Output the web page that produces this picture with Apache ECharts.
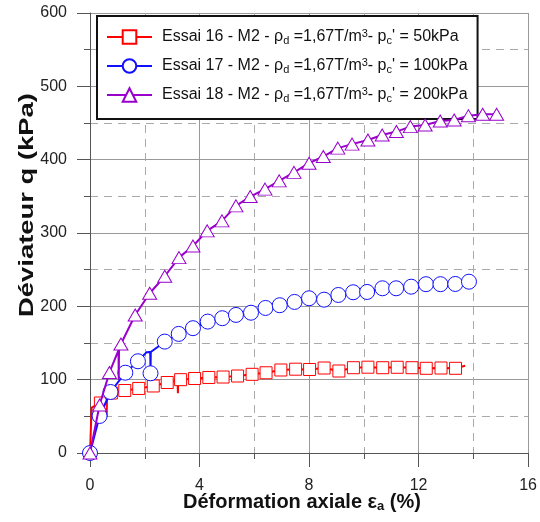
<!DOCTYPE html>
<html><head><meta charset="utf-8">
<script src="https://cdn.jsdelivr.net/npm/echarts@6/dist/echarts.min.js"></script>
<style>html,body{margin:0;padding:0;background:#fff}#c{width:540px;height:522px}</style>
</head><body><div id="c"></div>
<script>
// ---- data ----
const xTickValues = [0, 4, 8, 12, 16];
const yTickValues = [0, 100, 200, 300, 400, 500, 600];

const seriesNames = [
  "Essai 16 - M2 - ρd =1,67T/m3- pc' = 50kPa",
  "Essai 17 - M2 - ρd =1,67T/m3- pc' = 100kPa",
  "Essai 18 - M2 - ρd =1,67T/m3- pc' = 200kPa"
];
const legendRich = [
  "Essai 16 - M2 - ρ{sub|d} =1,67T/m{sup|3}- p{sub|c}' = 50kPa",
  "Essai 17 - M2 - ρ{sub|d} =1,67T/m{sup|3}- p{sub|c}' = 100kPa",
  "Essai 18 - M2 - ρ{sub|d} =1,67T/m{sup|3}- p{sub|c}' = 200kPa"
];

// Essai 16 (50 kPa) - marker points
const e16Markers = [[0.38,68.2],[0.78,81.8],[1.27,85.2],[1.78,88.0],[2.31,91.4],[2.82,96.1],[3.31,100.0],[3.82,101.6],[4.34,103.0],[4.86,103.6],[5.39,105.0],[5.92,107.3],[6.43,109.4],[6.97,113.2],[7.51,114.3],[8.02,113.9],[8.55,115.9],[9.09,111.8],[9.62,116.3],[10.15,117.0],[10.69,116.3],[11.22,116.9],[11.76,116.3],[12.28,115.5],[12.82,115.9],[13.35,115.5]];
// Essai 16 - full curve
const e16Curve = [[0,0],[0.05,0],[0.06,62],[0.38,68.2],[0.6,76],[0.61,49],[0.62,78],[0.78,81.8],[1.27,85.2],[1.78,88.0],[2.31,91.4],[2.82,96.1],[3.2,98.5],[3.21,81.4],[3.22,98.7],[3.31,100.0],[3.82,101.6],[4.34,103.0],[4.86,103.6],[5.39,105.0],[5.92,107.3],[6.43,109.4],[6.97,113.2],[7.51,114.3],[8.02,113.9],[8.55,115.9],[9.09,111.8],[9.62,116.3],[10.15,117.0],[10.69,116.3],[11.22,116.9],[11.76,116.3],[12.28,115.5],[12.82,115.9],[13.35,115.5],[13.70,119.0]];

// Essai 17 (100 kPa)
const e17Markers = [[0,0],[0.35,50.5],[0.75,83.2],[1.29,109.5],[1.75,125.1],[2.21,108.7],[2.73,151.9],[3.24,162.4],[3.76,170.2],[4.30,179.2],[4.83,183.8],[5.33,188.3],[5.88,191.3],[6.41,197.8],[6.93,201.5],[7.47,206.0],[8.0,211.0],[8.55,209.1],[9.07,215.5],[9.61,219.2],[10.12,219.6],[10.68,224.6],[11.18,224.6],[11.73,226.8],[12.27,230.2],[12.80,230.2],[13.34,230.5],[13.84,233.6]];
const e17Curve = [[0,0],[0.35,50.5],[0.75,83.2],[1.29,109.5],[1.75,125.1],[2.06,137.3],[2.2,137.7],[2.21,108.7],[2.22,137.7],[2.47,144.5],[2.73,151.9],[3.24,162.4],[3.76,170.2],[4.30,179.2],[4.83,183.8],[5.33,188.3],[5.88,191.3],[6.41,197.8],[6.93,201.5],[7.47,206.0],[8.0,211.0],[8.55,209.1],[9.07,215.5],[9.61,219.2],[10.12,219.6],[10.68,224.6],[11.18,224.6],[11.73,226.8],[12.27,230.2],[12.80,230.2],[13.34,230.5],[13.84,233.6]];

// Essai 18 (200 kPa)
const e18Markers = [[0,0],[0.35,65.5],[0.71,109.8],[1.13,148.6],[1.65,188.2],[2.18,217.8],[2.73,241.0],[3.25,266.4],[3.76,282.3],[4.28,302.9],[4.82,316.5],[5.33,337.0],[5.85,349.7],[6.39,359.8],[6.91,371.1],[7.45,382.7],[8.0,395.2],[8.52,404.3],[9.05,415.7],[9.57,421.2],[10.15,426.9],[10.67,433.7],[11.19,438.3],[11.70,445.1],[12.24,447.3],[12.79,452.8],[13.30,454.2],[13.82,460.0],[14.34,461.9],[14.85,461.9]];
const e18Curve = [[0,0],[0.35,65.5],[0.71,109.8],[1.04,140],[1.05,100],[1.06,142],[1.13,148.6],[1.65,188.2],[2.18,217.8],[2.73,241.0],[3.25,266.4],[3.76,282.3],[4.28,302.9],[4.82,316.5],[5.33,337.0],[5.85,349.7],[6.39,359.8],[6.91,371.1],[7.45,382.7],[8.0,395.2],[8.52,404.3],[9.05,415.7],[9.57,421.2],[10.15,426.9],[10.67,433.7],[11.19,438.3],[11.70,445.1],[12.24,447.3],[12.79,452.8],[13.30,454.2],[13.82,460.0],[14.34,461.9],[14.85,461.9]];

// ---- chart ----
const FONT = '"Liberation Sans", Arial, Helvetica, sans-serif';
function buildData(curve, markers) {
  return curve.map(p => {
    const isM = markers.some(m => m[0] === p[0] && m[1] === p[1]);
    return isM ? { value: p } : { value: p, symbol: 'none' };
  });
}
const styles = [
  { color: '#ff0000', symbol: 'rect', size: 12 },
  { color: '#1010ff', symbol: 'circle', size: 15 },
  { color: '#9900cc', symbol: 'triangle', size: [14, 12] }
];
const curves = [e16Curve, e17Curve, e18Curve];
const markerSets = [e16Markers, e17Markers, e18Markers];

const series = curves.map((c, i) => ({
  name: seriesNames[i],
  type: 'line',
  data: buildData(c, markerSets[i]),
  symbol: styles[i].symbol,
  symbolSize: styles[i].size,
  showSymbol: true,
  showAllSymbol: true,
  clip: false,
  color: styles[i].color,
  lineStyle: { color: styles[i].color, width: 2 },
  itemStyle: { color: '#ffffff', borderColor: styles[i].color, borderWidth: 1 },
  emphasis: { disabled: true },
  animation: false,
  z: 3 + i
}));

const chart = echarts.init(document.getElementById('c'), null, { renderer: 'canvas' });
chart.setOption({
  backgroundColor: '#ffffff',
  animation: false,
  textStyle: { fontFamily: FONT },
  grid: { left: 90, right: 10, top: 13, bottom: 69, containLabel: false },
  xAxis: {
    type: 'value', min: xTickValues[0], max: xTickValues[xTickValues.length - 1], interval: xTickValues[1] - xTickValues[0],
    axisLine: { show: true, onZero: false, lineStyle: { color: '#555', width: 1 } },
    axisTick: { show: true, length: 14, lineStyle: { color: '#555' } },
    minorTick: { show: true, splitNumber: 2, length: 6, lineStyle: { color: '#555' } },
    splitLine: { show: true, lineStyle: { color: '#999', width: 1 } },
    minorSplitLine: { show: true, lineStyle: { color: '#aaa', width: 1, type: [8, 6] } },
    axisLabel: { fontSize: 16, color: '#222', margin: 25, fontFamily: FONT }
  },
  yAxis: {
    type: 'value', min: yTickValues[0], max: yTickValues[yTickValues.length - 1], interval: yTickValues[1] - yTickValues[0],
    axisLine: { show: true, onZero: false, lineStyle: { color: '#555', width: 1 } },
    axisTick: { show: true, length: 13, lineStyle: { color: '#555' } },
    minorTick: { show: true, splitNumber: 2, length: 6, lineStyle: { color: '#555' } },
    splitLine: { show: true, lineStyle: { color: '#999', width: 1 } },
    minorSplitLine: { show: true, lineStyle: { color: '#aaa', width: 1, type: [8, 6] } },
    axisLabel: { fontSize: 16, color: '#222', margin: 23, fontFamily: FONT }
  },
  legend: {
    show: true,
    data: seriesNames,
    orient: 'vertical',
    left: 97, top: 16,
    itemWidth: 45, itemHeight: 17, itemGap: 11,
    padding: [12, 10, 15, 9],
    backgroundColor: '#ffffff',
    borderColor: '#111', borderWidth: 2,
    selectedMode: false,
    formatter: name => legendRich[seriesNames.indexOf(name)],
    textStyle: {
      fontSize: 16, color: '#111', fontFamily: FONT, padding: [0, 0, 0, 5], lineHeight: 18,
      rich: {
        sub: { fontSize: 11, verticalAlign: 'bottom', lineHeight: 18, padding: [6, 0, 0, 0], fontFamily: FONT, color: '#111' },
        sup: { fontSize: 11, verticalAlign: 'top', lineHeight: 18, padding: [0, 0, 4, 0], fontFamily: FONT, color: '#111' }
      }
    }
  },
  graphic: [
    {
      type: 'text', x: 27, y: 205, rotation: Math.PI / 2, scaleX: 1.37, scaleY: 1,
      style: { text: 'Déviateur q (kPa)', font: 'bold 20px ' + FONT, fill: '#111', textAlign: 'center', textVerticalAlign: 'middle' }
    },
    {
      type: 'text', x: 302, y: 502,
      style: {
        text: 'Déformation axiale ε{s|a} (%)', font: 'bold 20px ' + FONT, fill: '#111', textAlign: 'center', textVerticalAlign: 'middle',
        rich: { s: { font: 'bold 13px ' + FONT, fill: '#111', verticalAlign: 'bottom', padding: [9, 0, 0, 0] } }
      }
    }
  ],
  series: series
});
</script></body></html>
